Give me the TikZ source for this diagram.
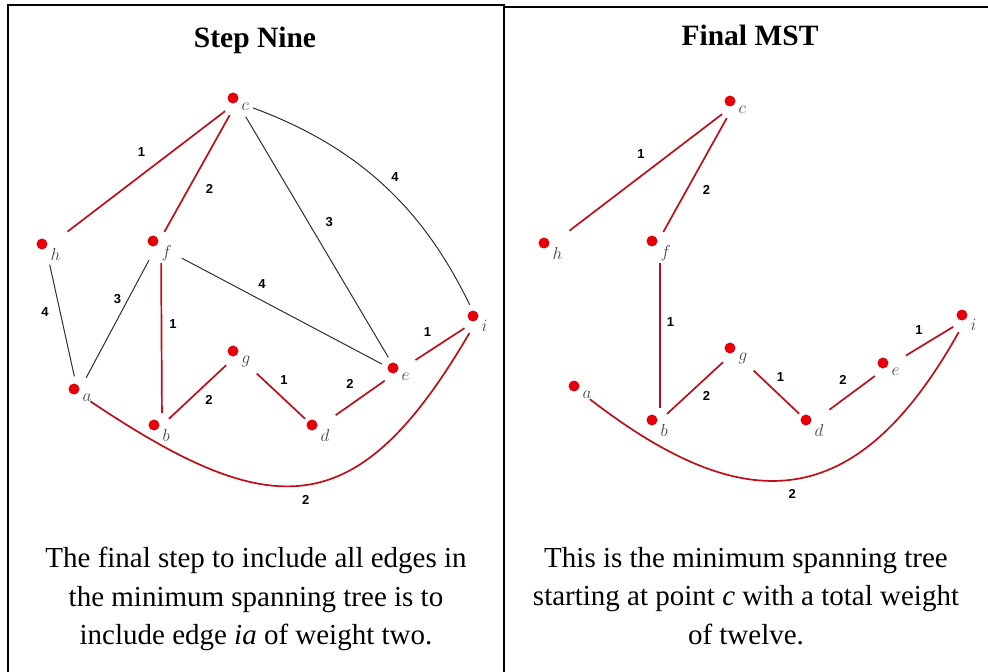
\documentclass[tikz,border=0pt]{standalone}
\usepackage{fontspec}
\setmainfont{Liberation Serif}
\newfontfamily\wtfont{Liberation Sans}
\usetikzlibrary{positioning}

\definecolor{dotred}{HTML}{E5000A}
\definecolor{edgered}{HTML}{BE0E1A}
\definecolor{edgegray}{HTML}{2E2E2E}
\definecolor{lblgray}{HTML}{45454F}

\tikzset{
  vtx/.style={circle, fill=dotred, inner sep=0pt, minimum size=11pt,
    label={[lbl]-25:$#1$}},
  lbl/.style={text=lblgray, inner sep=1pt, label distance=2.5pt,
    font=\fontsize{16}{16}\selectfont},
  tree/.style={draw=edgered, line width=1.7pt, shorten <=15pt, shorten >=15pt},
  rest/.style={draw=edgegray, line width=1pt, shorten <=17pt, shorten >=17pt},
  wt/.style={font=\wtfont\bfseries\fontsize{13}{13}\selectfont, inner sep=1pt},
  title/.style={anchor=base, font=\bfseries\fontsize{29.5}{30}\selectfont},
  caption/.style={align=center, font=\fontsize{29}{38.5}\selectfont},
  frame/.style={line width=2pt}
}

\begin{document}
\begin{tikzpicture}[x=1pt, y=-1pt]
  \useasboundingbox (0,0) rectangle (988,672);

  % cell borders
  \draw [frame] (8,672) -- (8,5) -- (505,5);
  \draw [frame] (504,672) -- (504,7) -- (988,7);

  % step nine
  \node [title] (t1) at (255,47) {Step Nine};

  \node [vtx=c] (c) at (233,98) {};
  \node [vtx=h] (h) at (42,244) {};
  \node [vtx=f] (f) at (153,241) {};
  \node [vtx=i] (i) at (473,316) {};
  \node [vtx=a] (a) at (74,389) {};
  \node [vtx=b] (b) at (154,425) {};
  \node [vtx=g] (g) at (233,351) {};
  \node [vtx=d] (d) at (312,425) {};
  \node [vtx=e] (e) at (393,368) {};

  \draw [rest] (c.south east) -- node [wt, above right=9pt and 7pt] {3} (e.south east);
  \draw [rest] (c.south east) to [bend left=22] node [wt, above right=2pt and 9pt] {4} (i.south east);
  \draw [rest, shorten <=28pt] (f.south east) -- node [wt, above left=19pt and 10pt] {4} (e.south east);
  \draw [rest] (h.south east) -- node [wt, above left=3pt and 12pt] {4} (a.south east);
  \draw [rest] (f.south east) -- node [wt, above=14pt] {3} (a.south east);

  \draw [tree, shorten >=27pt] (c.south east) -- node [wt, above=17pt] {1} (h.south east);
  \draw [tree] (c.south east) -- node [wt, below right=9pt and 7pt] {2} (f.south east);
  \draw [tree, shorten <=22pt, shorten >=12pt] ([xshift=8pt]f.center) -- node [wt, pos=.45, right=6pt] {1} ([xshift=8pt]b.center);
  \draw [tree] (b.south east) -- node [wt, below right=2pt and 6pt] {2} (g.south east);
  \draw [tree, shorten <=27pt] (g.south east) -- node [wt, above right=6pt and 2pt] {1} (d.south east);
  \draw [tree, shorten <=24pt] (d.south east) -- node [wt, above left=10pt and 1pt] {2} (e.south east);
  \draw [tree, shorten <=22pt] (e.south east) -- node [wt, above left=8pt and 4pt] {1} (i.south east);
  \draw [tree] (a.south east) .. controls +(195,131) and +(-119.5,204.5) .. node [wt, below=11pt] {2} (i.south east);

  \node [caption] (cap1) at (256,599) {The final step to include all edges in\\
    the minimum spanning tree is to\\
    include edge \textit{ia} of weight two.};

  % final MST
  \node [title] (t2) at (750,45) {Final MST};

  \node [vtx=c] (tc) at (730,101) {};
  \node [vtx=h] (th) at (544,243) {};
  \node [vtx=f] (tf) at (652,241) {};
  \node [vtx=i] (ti) at (962,315) {};
  \node [vtx=a] (ta) at (574,386) {};
  \node [vtx=b] (tb) at (652,420) {};
  \node [vtx=g] (tg) at (730,348) {};
  \node [vtx=d] (td) at (806,420) {};
  \node [vtx=e] (te) at (883,363) {};

  \draw [tree, shorten >=27pt] (tc.south east) -- node [wt, above=16pt] {1} (th.south east);
  \draw [tree] (tc.south east) -- node [wt, below right=9pt and 6pt] {2} (tf.south east);
  \draw [tree, shorten <=22pt, shorten >=12pt] ([xshift=8pt]tf.center) -- node [wt, pos=.45, right=5pt] {1} ([xshift=8pt]tb.center);
  \draw [tree] (tb.south east) -- node [wt, below right=2pt and 6pt] {2} (tg.south east);
  \draw [tree, shorten <=27pt] (tg.south east) -- node [wt, above right=5pt and 3pt] {1} (td.south east);
  \draw [tree, shorten <=24pt] (td.south east) -- node [wt, above left=9pt and 0pt] {2} (te.south east);
  \draw [tree, shorten <=22pt] (te.south east) -- node [wt, above left=7pt and 2pt] {1} (ti.south east);
  \draw [tree] (ta.south east) .. controls +(165,127.5) and +(-111,198.5) .. node [wt, below=11pt] {2} (ti.south east);

  \node [caption] (cap2) at (746,596) {This is the minimum spanning tree\\
    starting at point \textit{c} with a total weight\\
    of twelve.};
\end{tikzpicture}
\end{document}
